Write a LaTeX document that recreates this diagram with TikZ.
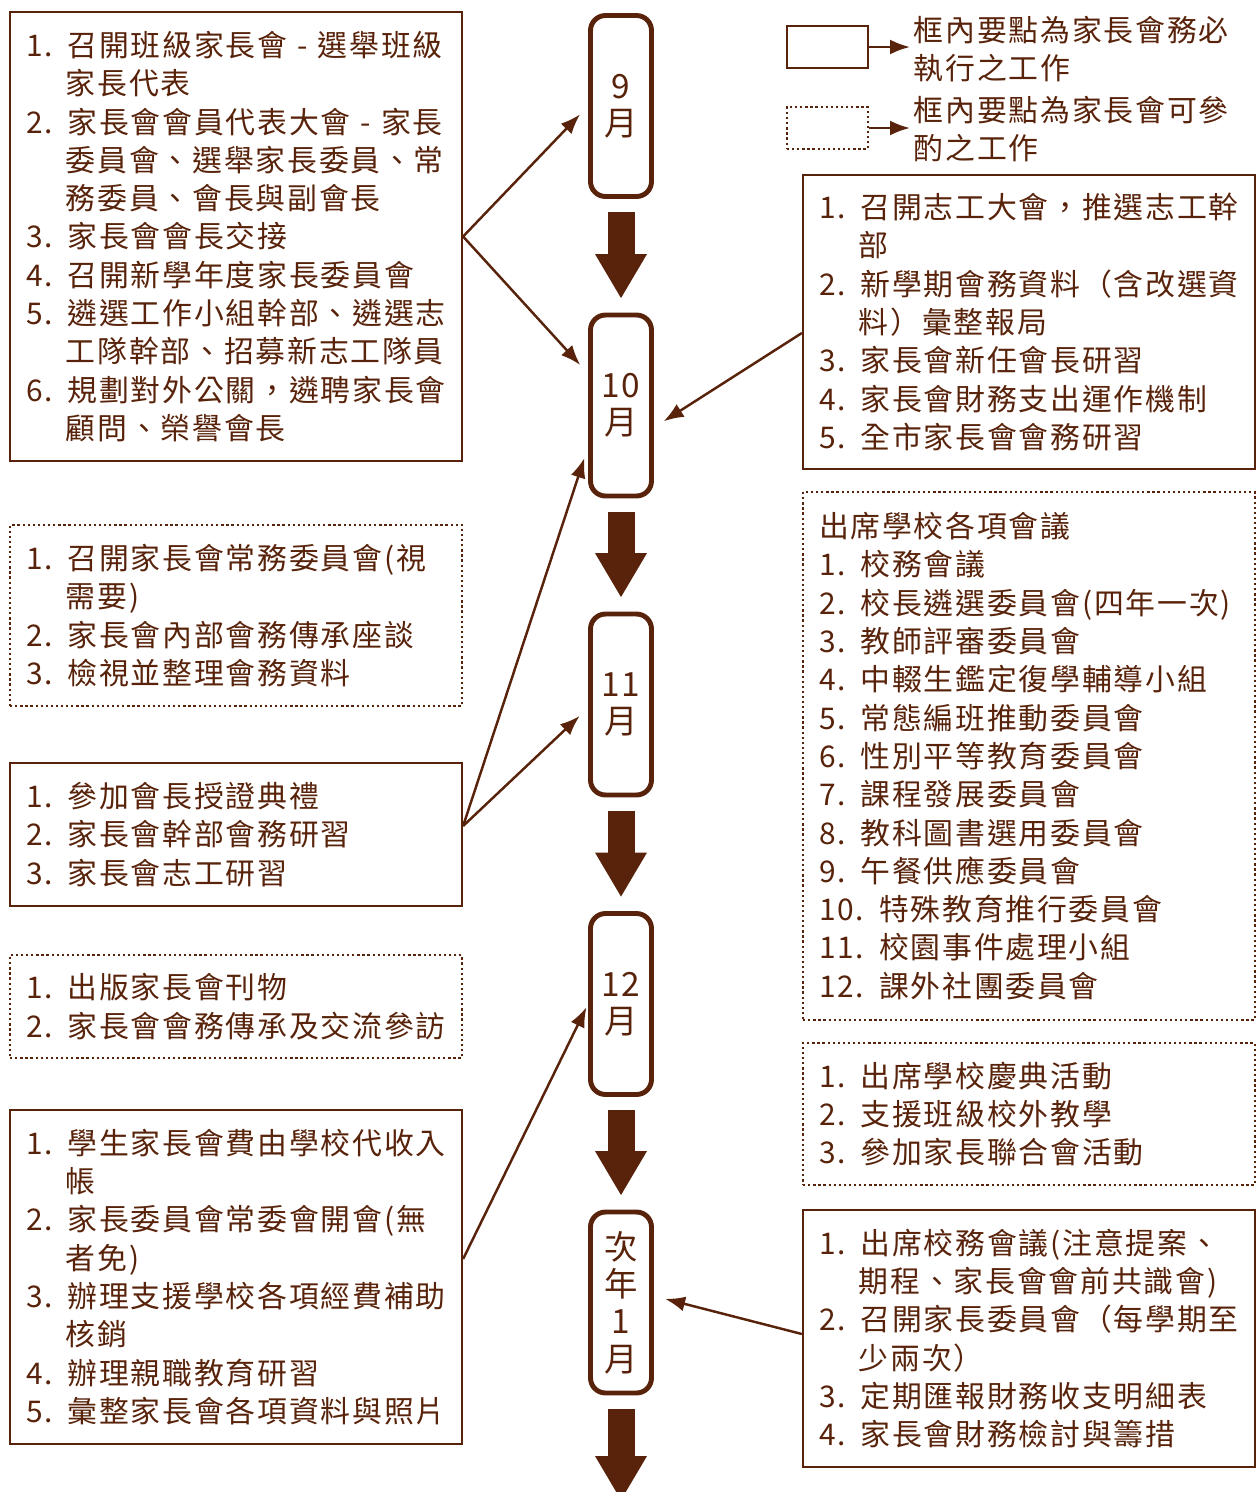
\documentclass[tikz,border=0pt]{standalone}
\usepackage{fontspec}
\usetikzlibrary{arrows.meta}
\newfontfamily\cjk{Noto Sans CJK TC}[LetterSpace=6]
\definecolor{brn}{RGB}{88,35,10}
\newcommand{\ind}{\hspace*{1.33em}}

\begin{document}
\begin{tikzpicture}[x=0.02cm, y=-0.02cm,
 every node/.style={text=brn, font=\cjk\fontsize{17}{21.8}\selectfont},
 must/.style={draw=brn, line width=1.3pt, minimum width=9.04cm, text width=8.4cm, align=left, inner xsep=0.3cm, inner ysep=0pt},
 maybe/.style={must, dash pattern=on 1.3pt off 1.6pt},
 key/.style={draw=brn, line width=1.3pt, minimum width=1.62cm, minimum height=0.84cm, inner sep=0pt},
 month/.style={draw=brn, line width=2.8pt, rounded corners=0.3cm, minimum width=1.22cm, minimum height=3.62cm, inner sep=0pt, align=center, font=\cjk\fontsize{19}{21.2}\selectfont},
 link/.style={draw=brn, line width=1.4pt, -{Latex[length=0.4cm, width=0.3cm]}, shorten >=0.23cm},
 flow/.style={draw=brn, line width=0.54cm, -{Triangle[length=0.88cm, width=1.04cm, line width=0pt]}, shorten <=0.27cm, shorten >=0.29cm}]

\useasboundingbox (0,0) rectangle (1257,1492);

% months
\node[month] (sep) at (621,106) {9\\月};
\node[month] (oct) at (621,405.5) {10\\月};
\node[month] (nov) at (621,704.5) {11\\月};
\node[month] (dec) at (621,1004) {12\\月};
\node[month] (jan) at (621,1302.5) {次\\年\\1\\月};
\coordinate (after) at (621,1500);

\foreach \a/\b in {sep/oct, oct/nov, nov/dec, dec/jan}
 \draw[flow] (\a.south) -- (\b.north);
\draw[flow, shorten >=0pt] (jan.south) -- (after);

% legend
\node[key] (keymust) at (827.5,47) {};
\node[key, dash pattern=on 1.3pt off 1.6pt] (keyopt) at (827.5,128) {};
\node[anchor=west, align=left, inner xsep=2pt] (notemust) at (910,49) {框內要點為家長會務必\\執行之工作};
\node[anchor=west, align=left, inner xsep=2pt] (noteopt) at (910,129) {框內要點為家長會可參\\酌之工作};
\draw[link, shorten >=0pt] (keymust.east) -- (keymust.east -| notemust.west);
\draw[link, shorten >=0pt] (keyopt.east) -- (keyopt.east -| noteopt.west);

% left column
\node[must, minimum height=8.98cm] (elect) at (236,236.5) {1. 召開班級家長會 - 選舉班級\\
\ind 家長代表\\
2. 家長會會員代表大會 - 家長\\
\ind 委員會、選舉家長委員、常\\
\ind 務委員、會長與副會長\\
3. 家長會會長交接\\
4. 召開新學年度家長委員會\\
5. 遴選工作小組幹部、遴選志\\
\ind 工隊幹部、招募新志工隊員\\
6. 規劃對外公關，遴聘家長會\\
\ind 顧問、榮譽會長};

\node[maybe, minimum height=3.62cm] (review) at (236,615.5) {1. 召開家長會常務委員會(視\\
\ind 需要)\\
2. 家長會內部會務傳承座談\\
3. 檢視並整理會務資料};

\node[must, minimum height=2.86cm] (train) at (236,834.5) {1. 參加會長授證典禮\\
2. 家長會幹部會務研習\\
3. 家長會志工研習};

\node[maybe, minimum height=2.06cm] (publish) at (236,1006.5) {1. 出版家長會刊物\\
2. 家長會會務傳承及交流參訪};

\node[must, minimum height=6.68cm] (finance) at (236,1277) {1. 學生家長會費由學校代收入\\
\ind 帳\\
2. 家長委員會常委會開會(無\\
\ind 者免)\\
3. 辦理支援學校各項經費補助\\
\ind 核銷\\
4. 辦理親職教育研習\\
5. 彙整家長會各項資料與照片};

% right column
\node[must, minimum height=5.88cm] (volunteer) at (1029,322) {1. 召開志工大會，推選志工幹\\
\ind 部\\
2. 新學期會務資料（含改選資\\
\ind 料）彙整報局\\
3. 家長會新任會長研習\\
4. 家長會財務支出運作機制\\
5. 全市家長會會務研習};

\node[maybe, minimum height=10.56cm] (meetings) at (1029,756) {出席學校各項會議\\
1. 校務會議\\
2. 校長遴選委員會(四年一次)\\
3. 教師評審委員會\\
4. 中輟生鑑定復學輔導小組\\
5. 常態編班推動委員會\\
6. 性別平等教育委員會\\
7. 課程發展委員會\\
8. 教科圖書選用委員會\\
9. 午餐供應委員會\\
10. 特殊教育推行委員會\\
11. 校園事件處理小組\\
12. 課外社團委員會};

\node[maybe, minimum height=2.84cm] (events) at (1029,1114) {1. 出席學校慶典活動\\
2. 支援班級校外教學\\
3. 參加家長聯合會活動};

\node[must, minimum height=5.14cm] (council) at (1029,1338.5) {1. 出席校務會議(注意提案、\\
\ind 期程、家長會會前共識會)\\
2. 召開家長委員會（每學期至\\
\ind 少兩次）\\
3. 定期匯報財務收支明細表\\
4. 家長會財務檢討與籌措};

% links
\draw[link] (elect.east) -- (sep.west);
\draw[link] (elect.east) -- ([yshift=0.64cm]oct.west);
\draw[link] ([yshift=-0.22cm]volunteer.west) -- ([yshift=-0.44cm]oct.east);
\draw[link] ([yshift=0.17cm]train.east) -- ([yshift=-0.83cm]oct.west);
\draw[link] ([yshift=0.17cm]train.east) -- ([yshift=-0.07cm]nov.west);
\draw[link, shorten >=0.07cm] ([yshift=0.36cm]finance.east) -- (dec.west);
\draw[link] ([yshift=0.09cm]council.west) -- ([yshift=0.13cm]jan.east);

\end{tikzpicture}
\end{document}
